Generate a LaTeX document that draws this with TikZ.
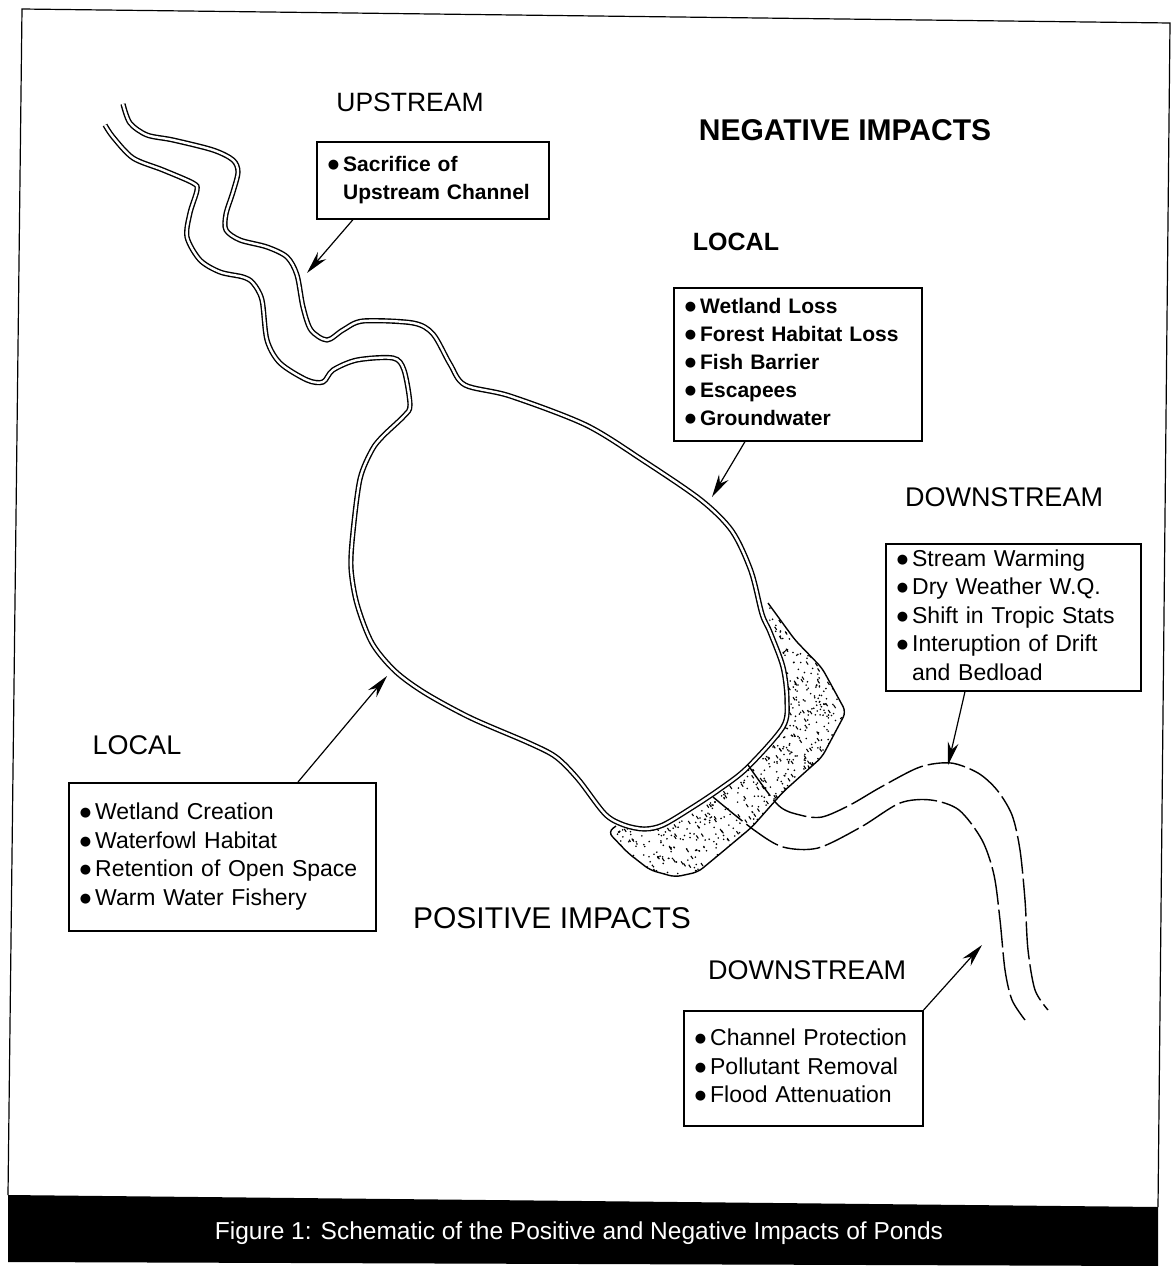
\documentclass[tikz,border=0pt]{standalone}
\usepackage{fontspec}
\setmainfont{Liberation Sans}
\newfontfamily\symfont{DejaVu Sans}
\usetikzlibrary{arrows.meta}
\definecolor{ink}{HTML}{000000}
\definecolor{paper}{HTML}{FFFFFF}
\newcommand{\titlefont}{\fontsize{30}{30}\selectfont}
\newcommand{\headfont}{\fontsize{27}{27}\selectfont}
\newcommand{\itemfont}{\fontsize{23}{28.5}\selectfont}
\newcommand{\itemboldfont}{\bfseries\fontsize{21}{28}\selectfont}
\newcommand{\captionfont}{\fontsize{24.5}{26}\selectfont}
\newcommand{\bul}{\raisebox{3pt}{\symfont\fontsize{13}{13}\selectfont ●}}
\tikzset{
  impactbox/.style={draw=ink, line width=1.6pt, anchor=north west, inner xsep=11pt, inner ysep=0pt, align=left},
  callout/.style={draw=ink, line width=1.2pt, -{Stealth[length=23pt, width=11pt]}},
  bank/.style={draw=ink, line width=1.4pt, double=paper, double distance=2.4pt},
  riverline/.style={draw=ink, line width=1.4pt, dash pattern=on 38pt off 5pt},
  bandedge/.style={draw=ink, line width=1.4pt, rounded corners=6pt},
}

\begin{document}
\begin{tikzpicture}[x=1pt,y=-1pt]
  \useasboundingbox (0,0) rectangle (1172,1266);
  \fill[paper] (0,0) rectangle (1172,1266);

  % Page frame, slightly skewed like the scan.
  \draw[ink, line width=1.2pt] (8,1195) -- (22,9) -- (1170,23) -- (1158,1207);

  % Stippled outlet band at the dam.
  \begin{scope}
    \clip[rounded corners=6pt] (768,603) -- (795,640) -- (822,668) -- (846,712) -- (822,757)
      -- (783,792) -- (752,827) -- (721,853) -- (698,872) -- (675,877) -- (650,870)
      -- (628,853) -- (608,832) -- (616,826) -- (647,830) -- (678,823) -- (717,797)
      -- (748,765) -- (783,727) -- (788,700) -- (783,667) -- (770,630) -- cycle;
    \pgfmathsetseed{11}
    \foreach \k in {1,...,1800} {
      \fill[ink] ({596+254*rnd},{600+280*rnd}) circle (0.9);
    }
    \foreach \k in {1,...,500} {
      \draw[ink, line width=1.1pt] ({596+254*rnd},{600+280*rnd}) -- ++(2,3);
    }
  \end{scope}
  \draw[bandedge] (768,603) -- (795,640) -- (822,668) -- (846,712) -- (822,757)
    -- (783,792) -- (752,827) -- (721,853) -- (698,872) -- (675,877) -- (650,870)
    -- (628,853) -- (608,832) -- (616,826);

  % Upstream channel and pond shoreline, one bank into the other.
  \draw[bank] plot[smooth, tension=0.5] coordinates {
    (123,104) (130,123) (147,135) (173,140) (213,150) (233,160) (238,172) (233,192)
    (226,214) (226,230) (240,240) (267,247) (287,257) (297,275) (303,307) (311,330)
    (327,340) (343,330) (363,321) (413,323) (433,334) (450,364) (465,385) (510,396)
    (586,425) (644,461) (701,500) (732,531) (751,571) (762,614) (770,632) (783,667)
    (787,700) (783,727) (747,768) (720,789) (693,807) (663,825) (644,829) (624,825)
    (605,814) (578,779) (556,757) (529,743) (471,718) (425,693) (395,671) (372,643)
    (357,604) (351,568) (353,532) (360,479) (372,450) (383,436) (404,416) (410,405)
    (404,370) (393,358) (357,360) (333,370) (323,382) (307,380) (280,363) (267,340)
    (262,300) (253,283) (243,277) (220,272) (200,260) (187,237) (190,213) (197,190)
    (193,183) (163,170) (133,158) (113,137) (105,125)};

  % Downstream channel.
  \draw[riverline] plot[smooth, tension=0.5] coordinates {
    (748,765) (778,805) (800,815) (822,817) (850,805) (881,787) (920,767) (951,763)
    (978,773) (997,790) (1012,815) (1020,850) (1025,900) (1028,950) (1035,990) (1048,1010)};
  \draw[riverline] plot[smooth, tension=0.5] coordinates {
    (713,797) (754,830) (783,847) (818,848) (861,827) (900,803) (931,800) (959,810)
    (982,840) (994,875) (1000,920) (1005,970) (1012,1000) (1025,1020)};

  % Headings.
  \node[font=\fontsize{26.5}{26.5}\selectfont] (upHead) at (410,102) {UPSTREAM};
  \node[font=\bfseries\titlefont] (negHead) at (845,130) {NEGATIVE IMPACTS};
  \node[font=\bfseries\fontsize{25}{25}\selectfont] (locnegHead) at (736,242) {LOCAL};
  \node[font=\headfont] (dnnegHead) at (1004,497) {DOWNSTREAM};
  \node[font=\headfont] (locposHead) at (137,745) {LOCAL};
  \node[font=\titlefont] (posHead) at (552,918) {POSITIVE IMPACTS};
  \node[font=\headfont] (dnposHead) at (807,970) {DOWNSTREAM};

  % Impact boxes.
  \node[impactbox, text width=210pt, minimum height=77pt, font=\itemboldfont] (upbox) at (316,141)
    {\begin{tabular}{@{}l@{\hspace{4pt}}l@{}}\bul & Sacrifice of\\ & Upstream Channel\end{tabular}};
  \node[impactbox, text width=226pt, minimum height=153pt, font=\itemboldfont] (locnegbox) at (673,287)
    {\begin{tabular}{@{}l@{\hspace{4pt}}l@{}}\bul & Wetland Loss\\ \bul & Forest Habitat Loss\\
      \bul & Fish Barrier\\ \bul & Escapees\\ \bul & Groundwater\end{tabular}};
  \node[impactbox, text width=233pt, minimum height=147pt, font=\itemfont] (dnnegbox) at (885,543)
    {\begin{tabular}{@{}l@{\hspace{4pt}}l@{}}\bul & Stream Warming\\ \bul & Dry Weather W.Q.\\
      \bul & Shift in Tropic Stats\\ \bul & Interuption of Drift\\ & and Bedload\end{tabular}};
  \node[impactbox, text width=285pt, minimum height=148pt, font=\itemfont] (locposbox) at (68,782)
    {\begin{tabular}{@{}l@{\hspace{4pt}}l@{}}\bul & Wetland Creation\\ \bul & Waterfowl Habitat\\
      \bul & Retention of Open Space\\ \bul & Warm Water Fishery\end{tabular}};
  \node[impactbox, text width=217pt, minimum height=115pt, font=\itemfont] (dnposbox) at (683,1010)
    {\begin{tabular}{@{}l@{\hspace{4pt}}l@{}}\bul & Channel Protection\\ \bul & Pollutant Removal\\
      \bul & Flood Attenuation\end{tabular}};

  % Callout arrows onto the shoreline.
  \coordinate (upTip) at (307,273);
  \coordinate (locnegTip) at (712,497);
  \coordinate (dnnegTip) at (948,765);
  \coordinate (locposTip) at (387,676);
  \coordinate (dnposTip) at (982,945);
  \draw[callout] ([xshift=37pt]upbox.south west) -- (upTip);
  \draw[callout] ([xshift=72pt]locnegbox.south west) -- (locnegTip);
  \draw[callout] ([xshift=80pt]dnnegbox.south west) -- (dnnegTip);
  \draw[callout] ([xshift=230pt]locposbox.north west) -- (locposTip);
  \draw[callout] (dnposbox.north east) -- (dnposTip);

  % Caption strip.
  \fill[ink] (8,1195) -- (1158,1207) -- (1158,1266) -- (8,1262) -- cycle;
  \node[text=paper, font=\captionfont] (caption) at (579,1233)
    {Figure 1: Schematic of the Positive and Negative Impacts of Ponds};
\end{tikzpicture}
\end{document}
